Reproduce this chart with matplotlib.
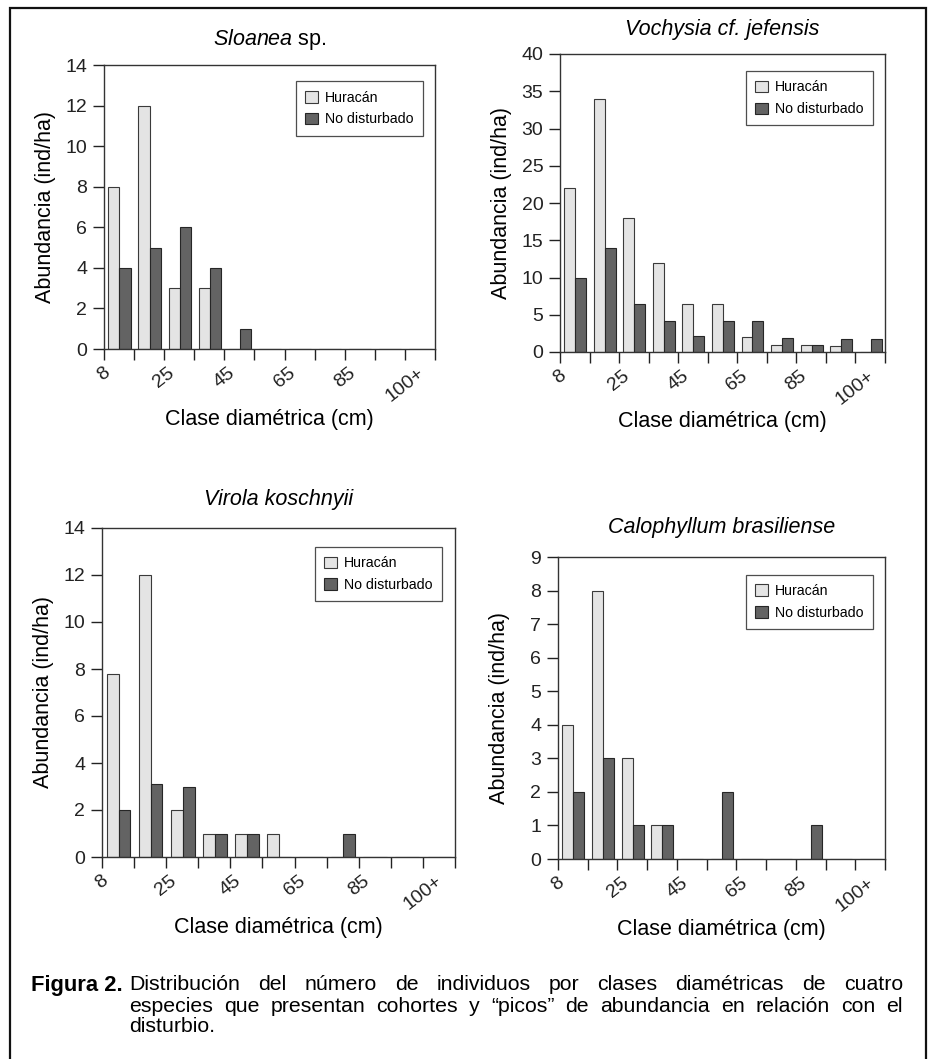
import matplotlib
matplotlib.use("Agg")
import matplotlib.pyplot as plt
from matplotlib.patches import Rectangle
import numpy as np

plt.rcParams['font.family'] = ['Liberation Sans', 'DejaVu Sans']
plt.rcParams['mathtext.fontset'] = 'custom'
plt.rcParams['mathtext.rm'] = 'Liberation Sans'
plt.rcParams['mathtext.it'] = 'Liberation Sans:italic'

# clases diametricas (11 clases, etiquetas cada dos)
n_clases = 11
clase_labels = ['8', '25', '45', '65', '85', '100+']

sloanea_h = [8, 12, 3, 3, 0, 0, 0, 0, 0, 0, 0]
sloanea_nd = [4, 5, 6, 4, 1, 0, 0, 0, 0, 0, 0]
vochysia_h = [22, 34, 18, 12, 6.4, 6.4, 2, 1, 0.9, 0.8, 0]
vochysia_nd = [10, 14, 6.4, 4.2, 2.2, 4.2, 4.2, 1.9, 0.9, 1.8, 1.8]
virola_h = [7.8, 12, 2, 1, 1, 1, 0, 0, 0, 0, 0]
virola_nd = [2, 3.1, 3, 1, 1, 0, 0, 1, 0, 0, 0]
calo_h = [4, 8, 3, 1, 0, 0, 0, 0, 0, 0, 0]
calo_nd = [2, 3, 1, 1, 0, 2, 0, 0, 1, 0, 0]

W, H = 933, 1059
fig = plt.figure(figsize=(W / 100, H / 100), dpi=100)

def px_axes(l, t, r, b):
    return fig.add_axes([l / W, 1 - b / H, (r - l) / W, (b - t) / H])

def panel(box, title, h, nd, ymax, ystep, title_dy):
    ax = px_axes(*box)
    x = np.arange(n_clases)
    bw = 0.37
    ax.bar(x - bw / 2 + 0.015, h, bw, color='#e4e4e4', edgecolor='#3a3a3a', linewidth=0.8,
           label='Huracán')
    ax.bar(x + bw / 2 + 0.015, nd, bw, color='#636363', edgecolor='#262626', linewidth=0.8,
           label='No disturbado')
    ax.set_xlim(-0.5, n_clases - 0.5)
    ax.set_ylim(0, ymax)
    ax.set_yticks(np.arange(0, ymax + 0.01, ystep))
    edges = np.arange(-0.5, n_clases, 1.0)
    ax.set_xticks(edges)
    ax.set_xticklabels([clase_labels[i // 2] if i % 2 == 0 and i // 2 < len(clase_labels) else ''
                        for i in range(len(edges))], rotation=38, ha='center')
    ax.tick_params(axis='both', direction='out', length=8, width=1, colors='#222222',
                   labelsize=14, pad=4)
    ax.tick_params(axis='x', pad=3)
    for s in ax.spines.values():
        s.set_linewidth(1.0)
        s.set_color('#333333')
    ax.set_ylabel('Abundancia (ind/ha)', fontsize=15.5)
    ax.set_xlabel('Clase diamétrica (cm)', fontsize=15.5)
    w = box[2] - box[0]
    hh = box[3] - box[1]
    ax.yaxis.set_label_coords(-58 / w, 0.5)
    ax.xaxis.set_label_coords(0.5, -70 / hh)
    ax.xaxis.label.set_va('center')
    ax.yaxis.label.set_va('center')
    ax.text(0.5, 1 + title_dy / hh, title, transform=ax.transAxes, ha='center', va='center',
            fontsize=15.5, fontstyle='italic' if '$' not in title else 'normal')
    leg = ax.legend(loc='upper right', bbox_to_anchor=(0.963, 0.942), borderaxespad=0,
                    fontsize=10.2, frameon=True, fancybox=False, edgecolor='#222222',
                    handlelength=0.9, handleheight=0.9, borderpad=0.65, labelspacing=0.55,
                    handletextpad=0.5)
    leg.get_frame().set_linewidth(0.9)
    return ax

panel((104, 65, 435, 349), r'$\mathit{Sloanea}$ sp.', sloanea_h, sloanea_nd, 14, 2, 25)
panel((560, 54, 885, 352), 'Vochysia cf. jefensis', vochysia_h, vochysia_nd, 40, 5, 24)
panel((102, 528, 455, 857), 'Virola koschnyii', virola_h, virola_nd, 14, 2, 28)
panel((558, 557, 885, 859), 'Calophyllum brasiliense', calo_h, calo_nd, 9, 1, 29)

# marco
fig.add_artist(Rectangle((10 / W, -0.01), (926 - 10) / W, 1.01 - 8 / H, transform=fig.transFigure,
                         fill=False, edgecolor='#111111', linewidth=1.6))

# leyenda de la figura, justificada
renderer = fig.canvas.get_renderer()
cap_size = 15.3

def justify(words, x0, x1, y):
    ts = [fig.text(0, 1 - y / H, wd, fontsize=cap_size, va='center', ha='left') for wd in words]
    widths = [t.get_window_extent(renderer).width for t in ts]
    gap = (x1 - x0 - sum(widths)) / (len(words) - 1)
    xc = x0
    for t, wdt in zip(ts, widths):
        t.set_x(xc / W)
        xc += wdt + gap

fig.text(31 / W, 1 - 985 / H, 'Figura 2.', fontsize=15.8, fontweight='bold', va='center')
justify('Distribución del número de individuos por clases diamétricas de cuatro'.split(),
        129, 903, 985)
justify('especies que presentan cohortes y “picos” de abundancia en relación con el'.split(),
        129, 903, 1006)
fig.text(129 / W, 1 - 1027 / H, 'disturbio.', fontsize=cap_size, va='center')

fig.savefig('out.png', dpi=100)
